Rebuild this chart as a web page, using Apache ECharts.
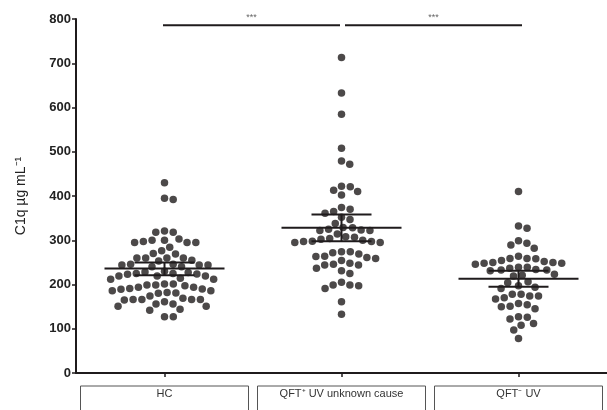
<!DOCTYPE html>
<html>
<head>
<meta charset="utf-8">
<script src="https://cdn.jsdelivr.net/npm/echarts@6/dist/echarts.min.js"></script>
<style>html,body{margin:0;padding:0;background:#fff;}#c{width:607px;height:410px;}</style>
</head>
<body>
<div id="c"></div>
<script>
// ---- data ----
const categories = ['HC', 'QFT\u207A UV unknown cause', 'QFT\u207B UV'];
const hcValues = [430, 392, 395, 318, 318, 321, 300, 295, 295, 284, 295, 297, 300, 303, 270, 269, 276,
  255, 260, 260, 260, 260, 253, 246, 244, 240, 244, 240, 244, 246, 230, 225, 224, 219, 219, 212, 212, 214,
  219, 223, 225, 227, 228, 201, 199, 197, 194, 190, 186, 182, 180, 181, 186, 189, 191, 194, 199, 201, 174,
  166, 166, 165, 156, 151, 151, 156, 161, 166, 166, 169, 142, 144, 127, 127];
const qftPosValues = [713, 633, 585, 508, 472, 479, 421, 410, 402, 413, 422, 374, 365, 352, 347, 361, 370,
  338, 328, 323, 322, 322, 325, 329, 308, 304, 300, 297, 297, 295, 295, 298, 302, 307, 314, 274, 272, 264,
  261, 254, 259, 263, 269, 274, 246, 244, 231, 225, 237, 244, 248, 205, 199, 191, 197, 199, 161, 133];
const qftNegValues = [410, 327, 332, 299, 289, 282, 293, 264, 259, 254, 250, 248, 246, 248, 250, 252, 258,
  259, 239, 237, 233, 231, 221, 219, 223, 233, 234, 239, 206, 197, 191, 194, 204, 178, 174, 170, 167, 174,
  178, 157, 151, 145, 150, 154, 126, 112, 108, 122, 127, 97, 78];
const means = [236, 328, 213];
const errLow = [221, 298, 195];
const errHigh = [250, 358, 231];
const sigPairs = [[0, 1], [1, 2]];
const sigLabels = ['***', '***'];
const sigLevel = 786;
const yMin = 0, yMax = 800, yStep = 100;

// ---- chart ----
const groups = [hcValues, qftPosValues, qftNegValues];
const FONT = '"Liberation Sans", Arial, Helvetica, sans-serif';
const INK = '#1f1b1c';
const chart = echarts.init(document.getElementById('c'), null, { renderer: 'canvas' });

const baseOption = {
  animation: false,
  backgroundColor: '#fff',
  grid: { left: 76, right: 0, top: 19, bottom: 37, containLabel: false, outerBoundsMode: 'none' },
  xAxis: [{
    type: 'category',
    data: categories,
    boundaryGap: true,
    axisLine: { show: true, lineStyle: { color: INK, width: 2 } },
    axisTick: { show: true, alignWithLabel: true, length: 4, lineStyle: { color: INK, width: 1.5 } },
    axisLabel: {
      interval: 0, margin: 13, color: '#333', fontFamily: FONT, fontSize: 11,
      width: 168, align: 'center', lineHeight: 13,
      borderColor: '#555', borderWidth: 1, padding: [1, 0, 25, 0]
    },
    splitLine: { show: false }
  }, {
    type: 'value', min: 0, max: 3, show: false
  }],
  yAxis: {
    type: 'value', min: yMin, max: yMax, interval: yStep,
    name: 'C1q \u00B5g mL\u207B\u00B9', nameLocation: 'middle', nameGap: 48, nameRotate: 90,
    nameTextStyle: { color: '#222', fontFamily: FONT, fontSize: 14 },
    axisLine: { show: true, lineStyle: { color: INK, width: 2 } },
    axisTick: { show: true, length: 4, lineStyle: { color: INK, width: 1.5 } },
    axisLabel: { color: '#222', fontFamily: FONT, fontSize: 13, fontWeight: 'bold', margin: 5 },
    splitLine: { show: false }
  },
  series: []
};
chart.setOption(baseOption);

const pyPerUnit = (chart.convertToPixel({ yAxisIndex: 0 }, 0) - chart.convertToPixel({ yAxisIndex: 0 }, 100)) / 100;
const pxPerUnitX = chart.convertToPixel({ xAxisIndex: 1 }, 1) - chart.convertToPixel({ xAxisIndex: 1 }, 0);

function swarm(values, d) {
  const order = values.map((v, i) => i).sort((a, b) => values[b] - values[a]);
  const placed = [];
  const offs = new Array(values.length).fill(0);
  order.forEach(i => {
    const y = values[i] * pyPerUnit;
    const near = placed.filter(p => Math.abs(p.y - y) < d);
    const cands = [0];
    near.forEach(p => {
      const dx = Math.sqrt(d * d - (p.y - y) * (p.y - y));
      cands.push(p.x + dx, p.x - dx);
    });
    cands.sort((a, b) => Math.abs(a) - Math.abs(b));
    let x = 0;
    for (const c of cands) {
      if (near.every(p => (p.x - c) * (p.x - c) + (p.y - y) * (p.y - y) >= d * d - 1e-6)) { x = c; break; }
    }
    placed.push({ x, y });
    offs[i] = x;
  });
  return offs;
}

const dotData = [];
groups.forEach((vals, gi) => {
  const offs = swarm(vals, 8.8);
  vals.forEach((v, i) => dotData.push([gi + 0.5 + offs[i] / pxPerUnitX, v]));
});

const meanData = means.map((m, i) => [i + 0.5, m, errLow[i], errHigh[i]]);
const sigData = sigPairs.map((p, i) => [p[0] + 0.5, p[1] + 0.5, sigLevel, i]);

chart.setOption({
  series: [{
    type: 'scatter', xAxisIndex: 1, yAxisIndex: 0, data: dotData,
    symbol: 'circle', symbolSize: 7.5, itemStyle: { color: INK }, z: 2, silent: true
  }, {
    type: 'custom', xAxisIndex: 1, yAxisIndex: 0, data: meanData, z: 5, clip: false, silent: true,
    renderItem: function (params, api) {
      const c = api.coord([api.value(0), api.value(1)]);
      const lo = api.coord([api.value(0), api.value(2)]);
      const hi = api.coord([api.value(0), api.value(3)]);
      const st = { stroke: INK, lineWidth: 2 };
      return { type: 'group', children: [
        { type: 'line', shape: { x1: c[0] - 60, y1: c[1], x2: c[0] + 60, y2: c[1] }, style: st },
        { type: 'line', shape: { x1: c[0] - 30, y1: lo[1], x2: c[0] + 30, y2: lo[1] }, style: st },
        { type: 'line', shape: { x1: c[0] - 30, y1: hi[1], x2: c[0] + 30, y2: hi[1] }, style: st },
        { type: 'line', shape: { x1: c[0], y1: lo[1], x2: c[0], y2: hi[1] }, style: st }
      ] };
    }
  }, {
    type: 'custom', xAxisIndex: 1, yAxisIndex: 0, data: sigData, z: 5, clip: false, silent: true,
    renderItem: function (params, api) {
      const a = api.coord([api.value(0), api.value(2)]);
      const b = api.coord([api.value(1), api.value(2)]);
      const idx = api.value(3);
      const left = a[0] + (api.value(0) < 1 ? -1.5 : 3.5);
      const right = b[0] + (api.value(1) > 2 ? 3.5 : -1.5);
      return { type: 'group', children: [
        { type: 'line', shape: { x1: left, y1: a[1], x2: right, y2: a[1] }, style: { stroke: INK, lineWidth: 2 } },
        { type: 'text', style: { text: sigLabels[idx], x: (left + right) / 2, y: a[1] - 8,
          align: 'center', verticalAlign: 'middle', fill: '#666', font: '9px ' + FONT } }
      ] };
    }
  }]
});
</script>
</body>
</html>
